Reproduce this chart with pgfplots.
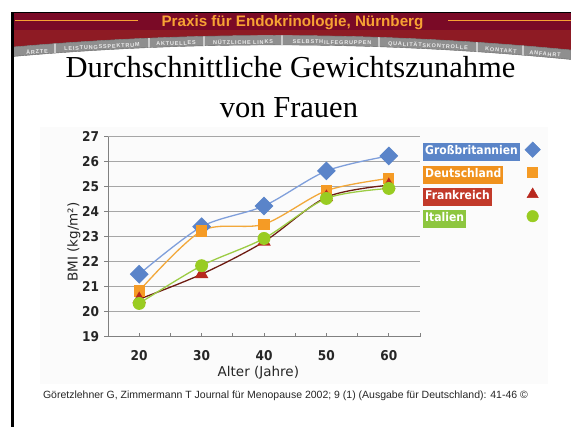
\documentclass[border=0pt]{standalone}
\usepackage{pgfplots}
\pgfplotsset{compat=1.18}
\usepackage{fontspec}
\setmainfont{Liberation Serif}
\newfontfamily\arialf{Liberation Sans}
\newfontfamily\tabf[LetterSpace=15]{Liberation Sans}
\newfontfamily\verdf{DejaVu Sans}
\newfontfamily\verdc[FakeStretch=0.9]{DejaVu Sans}

\definecolor{hdrdark}{HTML}{7A0A26}
\definecolor{hdrred}{HTML}{8E1B24}
\definecolor{hdrorange}{HTML}{F7A234}
\definecolor{tabgray}{HTML}{8F8F8F}
\definecolor{gbline}{HTML}{7F9FDB}
\definecolor{gbmark}{HTML}{5A84C9}
\definecolor{gbbox}{HTML}{5B85C8}
\definecolor{deline}{HTML}{F2A83A}
\definecolor{demark}{HTML}{F59B25}
\definecolor{debox}{HTML}{F0921E}
\definecolor{frline}{HTML}{6E1C12}
\definecolor{frmark}{HTML}{B8281E}
\definecolor{frbox}{HTML}{C23A2A}
\definecolor{itline}{HTML}{9CCC44}
\definecolor{itmark}{HTML}{99CC22}
\definecolor{itbox}{HTML}{8DC63F}

\pgfplotstableread{
x  gb    de    fr    it
20 21.50 20.83 20.50 20.33
30 23.40 23.23 21.50 21.84
40 24.23 23.50 22.80 22.93
50 25.63 24.84 24.58 24.53
60 26.23 25.33 25.06 24.93
}\bmidata

\begin{document}
\begin{tikzpicture}
\useasboundingbox (0,0) rectangle (571pt,427pt);
\fill[white] (0,0) rectangle (571pt,427pt);
\begin{scope}[x=1pt,y=-1pt,yshift=427pt]
  % chart background
  \fill[black!1.5] (40,127) rectangle (548,384);
  % header band
  \fill[hdrred] (13,13) -- (571,13) -- (571,50) .. controls (383.7,31.67) and (197.7,30.67) .. (13,47) -- cycle;
  \fill[hdrdark] (13,13) rectangle (571,30);
  \draw[hdrorange, line width=1pt] (15,21) -- (138,21);
  \draw[hdrorange, line width=1pt] (448,21) -- (571,21);
  \node[anchor=base, text=hdrorange, font=\arialf\bfseries\fontsize{15.2}{17}\selectfont, inner sep=0pt] at (292.5,27) {Praxis für Endokrinologie, Nürnberg};
  % tabs
  \path[fill=tabgray, draw=black!60, line width=0.4pt] (13,47) .. controls (197.7,30.67) and (383.7,31.67) .. (571,50) -- (571,59.5) .. controls (383.7,41.17) and (197.7,40.17) .. (13,56.5) -- cycle;
  \begin{scope}
    \clip (13,47) .. controls (197.7,30.67) and (383.7,31.67) .. (571,50) -- (571,59.5) .. controls (383.7,41.17) and (197.7,40.17) .. (13,56.5) -- cycle;
    \foreach \xx in {55,149,204,282,379,477,523}
      \draw[black!20, line width=1.6pt] (\xx,25) -- (\xx,65);
  \end{scope}
  \foreach \xx/\yy/\aa/\tt in {37/51.5/4.6/ÄRZTE, 102/46.8/3.3/LEISTUNGSSPEKTRUM, 176/43.4/1.9/AKTUELLES, 243/41.9/0.6/NÜTZLICHE LINKS, 332/42.3/-1.1/SELBSTHILFEGRUPPEN, 428/45.6/-2.9/QUALITÄTSKONTROLLE, 501/50.2/-4.3/KONTAKT, 545/53.9/-5.1/ANFAHRT}
    \node[rotate=\aa, text=white!92!black, font=\tabf\bfseries\fontsize{5.5}{6}\selectfont, inner sep=0pt] at (\xx,\yy) {\tt};
  % black frame
  \fill[black] (11,12) rectangle (571,13.5);
  \fill[black] (11,12) rectangle (13.5,427);
  % title
  \node[anchor=base, font=\fontsize{30.5}{36}\selectfont, inner sep=0pt] at (290.5,77.7) {Durchschnittliche Gewichtszunahme};
  \node[anchor=base, font=\fontsize{30.5}{36}\selectfont, inner sep=0pt] at (289,118) {von Frauen};
  % source
  \node[anchor=base, font=\arialf\fontsize{10.5}{12}\selectfont, text=black!85, inner sep=0pt] at (285.5,399) {Göretzlehner G, Zimmermann T Journal für Menopause 2002; 9 (1) (Ausgabe für Deutschland): 41-46 \textcopyright};
\end{scope}

\begin{axis}[
  at={(108pt,90.3pt)}, anchor=south west,
  scale only axis, width=312pt, height=200pt,
  xmin=15, xmax=65, ymin=19, ymax=27,
  axis x line*=bottom, axis y line*=left,
  axis line style={-, draw=black!50, line width=0.8pt},
  xtick={20,30,40,50,60},
  minor xtick={15,25,35,45,55,65},
  ytick={19,20,...,27},
  xtick align=inside, ytick align=outside,
  major tick length=3.5pt, minor tick length=3.5pt,
  tick style={draw=black!50, line width=0.7pt},
  ymajorgrids, grid style={draw=black!35, line width=0.6pt},
  /pgf/number format/assume math mode=true,
  tick label style={font=\verdc\bfseries\fontsize{13.5}{15}\selectfont, text=black!85},
  xticklabel style={yshift=-10pt},
  yticklabel style={xshift=-2pt},
  xlabel={Alter (Jahre)},
  ylabel={BMI (kg/m²)},
  label style={font=\verdf\fontsize{13.5}{16}\selectfont, text=black!85},
  x label style={at={(axis description cs:0.482,-0.18)}, anchor=center},
  y label style={at={(axis description cs:-0.109,0.4735)}, anchor=center},
  legend style={at={(axis description cs:1,1)}, anchor=north west, xshift=3pt, yshift=-5pt,
    draw=none, fill=none, inner sep=0pt, row sep=8.5pt, column sep=5pt,
    nodes={inner sep=0pt},
    font=\verdc\bfseries\fontsize{12}{14}\selectfont},
  legend cell align=left,
  legend plot pos=right,
  clip=false,
]
\setlength{\fboxsep}{2pt}
\addplot[gbline, line width=1.3pt, smooth, mark=square*, mark size=6pt, mark options={rotate=45, fill=gbmark, draw=gbmark}, forget plot] table[x=x,y=gb] {\bmidata};
\addplot[deline, line width=1.3pt, smooth, mark=square*, mark size=5pt, mark options={fill=demark, draw=demark}, forget plot] table[x=x,y=de] {\bmidata};
\addplot[frline, line width=1.3pt, smooth, mark=triangle*, mark size=6.5pt, mark options={fill=frmark, draw=frmark}, forget plot] table[x=x,y=fr] {\bmidata};
\addplot[itline, line width=1.3pt, smooth, mark=*, mark size=5.8pt, mark options={fill=itmark, draw=itmark}, forget plot] table[x=x,y=it] {\bmidata};

\addlegendimage{only marks, mark=square*, mark size=5.5pt, mark options={rotate=45, fill=gbmark, draw=gbmark}}
\addlegendentry{\colorbox{gbbox}{\color{white}\strut Großbritannien}}
\addlegendimage{only marks, mark=square*, mark size=5pt, mark options={fill=demark, draw=demark}}
\addlegendentry{\colorbox{debox}{\color{white}\strut Deutschland}}
\addlegendimage{only marks, mark=triangle*, mark size=6.5pt, mark options={fill=frmark, draw=frmark}}
\addlegendentry{\colorbox{frbox}{\color{white}\strut Frankreich}}
\addlegendimage{only marks, mark=*, mark size=5.8pt, mark options={fill=itmark, draw=itmark}}
\addlegendentry{\colorbox{itbox}{\color{white}\strut Italien}}
\end{axis}
\end{tikzpicture}
\end{document}
